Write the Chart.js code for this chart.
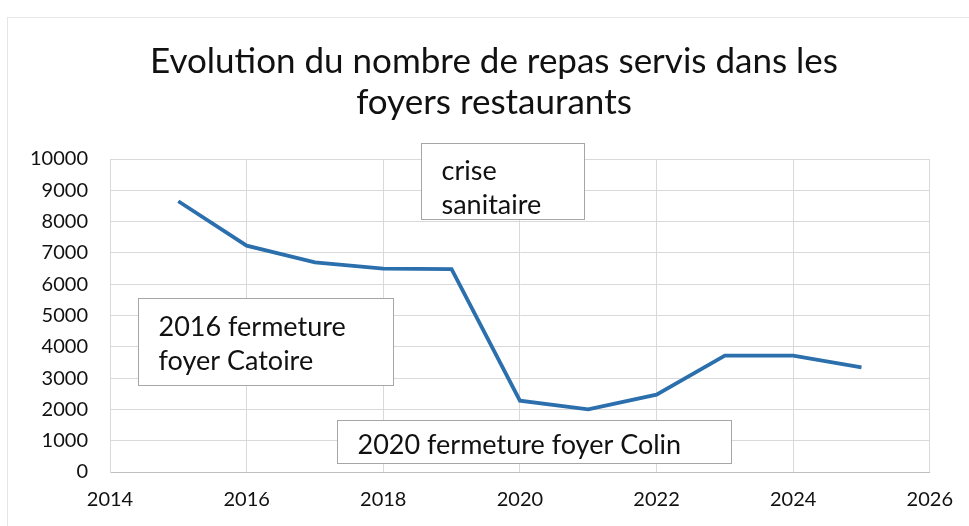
<!DOCTYPE html>
<html>
<head>
<meta charset="utf-8">
<script src="https://cdn.jsdelivr.net/npm/chart.js@4"></script>
<style>
  html, body { margin: 0; padding: 0; background: #fff; }
  #wrap { position: relative; width: 969px; height: 526px; }
  #frame { position: absolute; left: 7px; top: 17px; width: 980px; height: 600px; border: 1px solid #e6e6e6; }
  #chart { position: absolute; left: 0; top: 0; }
</style>
</head>
<body>
<div id="wrap">
  <div id="frame"></div>
  <canvas id="chart" width="969" height="526"></canvas>
</div>
<script>
var annees = [2015, 2016, 2017, 2018, 2019, 2020, 2021, 2022, 2023, 2024, 2025];
var repas = [8650, 7230, 6700, 6500, 6480, 2280, 2000, 2470, 3720, 3720, 3340];
var titre = ['Evolution du nombre de repas servis dans les', 'foyers restaurants'];

// encadrés de commentaire, placés en unités des axes (années, repas)
var encadres = [
  { lignes: ['crise', 'sanitaire'], x1: 2018.55, x2: 2020.94, y1: 10500, y2: 8080, dy: 7 },
  { lignes: ['2016 fermeture', 'foyer Catoire'], x1: 2014.41, x2: 2018.14, y1: 5560, y2: 2780, dy: 2 },
  { lignes: ['2020 fermeture foyer Colin'], x1: 2017.32, x2: 2023.09, y1: 1660, y2: 290, dy: 3 }
];

var police = 'Lato, "Open Sans", sans-serif';

// titre centré sur x = 494, deux lignes
var pluginTitre = {
  id: 'titre',
  afterDraw: function (chart) {
    var c = chart.ctx;
    c.save();
    c.fillStyle = '#111';
    c.font = '35px ' + police;
    c.textAlign = 'center';
    c.textBaseline = 'middle';
    titre.forEach(function (txt, i) {
      c.fillText(txt, 494, 62 + i * 41);
    });
    c.restore();
  }
};

var pluginEncadres = {
  id: 'encadres',
  afterDraw: function (chart) {
    var c = chart.ctx;
    var sx = chart.scales.x, sy = chart.scales.y;
    c.save();
    encadres.forEach(function (e) {
      var l = Math.round(sx.getPixelForValue(e.x1)) + 0.5;
      var r = Math.round(sx.getPixelForValue(e.x2)) + 0.5;
      var t = Math.round(sy.getPixelForValue(e.y1)) + 0.5;
      var b = Math.round(sy.getPixelForValue(e.y2)) + 0.5;
      c.fillStyle = '#fff';
      c.fillRect(l, t, r - l, b - t);
      c.strokeStyle = '#a6a6a6';
      c.lineWidth = 1;
      c.strokeRect(l, t, r - l, b - t);
      c.fillStyle = '#111';
      c.font = '27px ' + police;
      c.textBaseline = 'middle';
      c.textAlign = 'left';
      var h = 34;
      var y0 = (t + b) / 2 - (e.lignes.length - 1) * h / 2 + e.dy;
      e.lignes.forEach(function (txt, i) {
        c.fillText(txt, l + 20, y0 + i * h);
      });
    });
    c.restore();
  }
};

new Chart(document.getElementById('chart'), {
  type: 'line',
  data: {
    datasets: [{
      data: annees.map(function (a, i) { return { x: a, y: repas[i] }; }),
      borderColor: '#2b6fad',
      borderWidth: 3.8,
      pointRadius: 0,
      tension: 0,
      fill: false
    }]
  },
  options: {
    responsive: false,
    animation: false,
    layout: { padding: { left: 0, right: 39, top: 159, bottom: 0 } },
    plugins: {
      legend: { display: false },
      tooltip: { enabled: false },
      title: { display: false }
    },
    scales: {
      x: {
        type: 'linear',
        min: 2014,
        max: 2026,
        ticks: {
          stepSize: 2,
          color: '#111',
          font: { family: police, size: 20 },
          padding: 16,
          maxRotation: 0,
          callback: function (v) { return String(v); }
        },
        grid: { color: '#d9d9d9', drawTicks: false },
        border: { color: '#bfbfbf' },
        afterFit: function (s) { s.height = 54; }
      },
      y: {
        min: 0,
        max: 10000,
        ticks: {
          stepSize: 1000,
          color: '#111',
          font: { family: police, size: 20 },
          padding: 22,
          callback: function (v) { return String(v); }
        },
        grid: { color: '#d9d9d9', drawTicks: false },
        border: { color: '#d9d9d9' },
        afterFit: function (s) { s.width = 110; }
      }
    }
  },
  plugins: [pluginTitre, pluginEncadres]
});
</script>
</body>
</html>
